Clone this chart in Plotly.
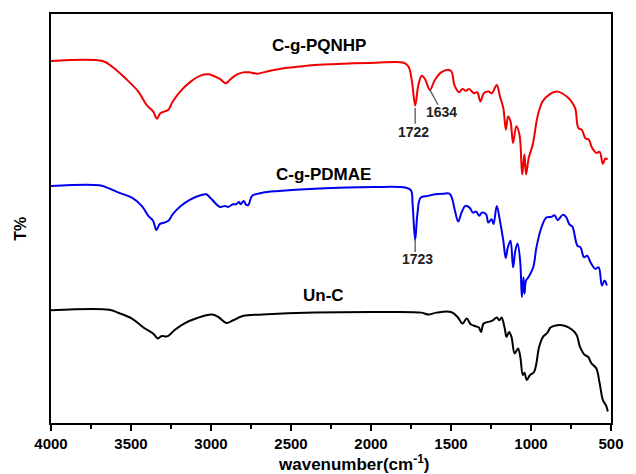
import plotly.graph_objects as go

# ---- data (y is relative transmittance, arbitrary units) ----
red_wn = [4000, 3678, 3617, 3535, 3454, 3403, 3362, 3337, 3317, 3290, 3266, 3239, 3189, 3127, 3066,
          3015, 2974, 2944, 2907, 2883, 2842, 2801, 2760, 2709, 2638, 2556, 2475, 2352, 2173, 1969,
          1795, 1765, 1744, 1724, 1704, 1683, 1663, 1632, 1601, 1561, 1510, 1494, 1479, 1448, 1428,
          1408, 1387, 1357, 1336, 1316, 1295, 1265, 1245, 1214, 1194, 1173, 1157, 1143, 1128, 1112,
          1092, 1072, 1055, 1041, 1031, 1014, 989, 959, 928, 888, 837, 796, 755, 724, 704,
          683, 659, 639, 618, 592, 571, 551, 535, 521]
red_t = [364.0, 364.0, 358.3, 346.6, 333.3, 320.0, 313.3, 306.0, 311.6, 313.3, 315.0, 323.3, 334.0, 343.3, 349.3,
         350.6, 348.3, 346.0, 341.6, 345.0, 350.0, 352.6, 352.6, 351.3, 354.0, 356.6, 358.0, 360.0, 361.3, 362.3,
         362.3, 358.3, 343.3, 319.3, 340.0, 349.3, 346.0, 335.0, 345.0, 352.6, 355.0, 352.6, 340.0, 332.6, 336.0,
         334.0, 336.0, 331.6, 332.6, 323.3, 331.6, 333.3, 331.6, 340.0, 328.3, 316.6, 295.0, 308.3, 303.3, 281.6,
         298.3, 290.0, 250.0, 270.3, 250.0, 266.6, 280.0, 308.3, 323.3, 330.0, 333.3, 330.6, 325.0, 316.6, 296.6,
         295.0, 286.0, 285.0, 276.6, 271.6, 272.6, 260.6, 266.0, 265.0]

blue_wn = [4000, 3698, 3637, 3576, 3494, 3433, 3392, 3362, 3341, 3321, 3290, 3266, 3239, 3189, 3127,
           3066, 3029, 3005, 2944, 2913, 2893, 2862, 2842, 2825, 2815, 2795, 2780, 2766, 2744, 2678,
           2577, 2352, 1985, 1781, 1750, 1740, 1724, 1710, 1690, 1648, 1598, 1546, 1510, 1495, 1475,
           1455, 1434, 1410, 1384, 1363, 1343, 1322, 1308, 1281, 1267, 1246, 1234, 1214, 1194, 1173,
           1158, 1145, 1128, 1112, 1098, 1084, 1067, 1057, 1047, 1041, 1031, 1016, 986, 966, 935,
           904, 873, 853, 833, 802, 781, 761, 741, 710, 690, 669, 649, 628, 598, 577,
           557, 540, 526]
blue_t = [238.3, 239.0, 236.0, 231.6, 226.6, 218.3, 208.3, 203.3, 194.0, 200.0, 201.6, 203.3, 210.0, 218.3, 225.0,
          229.0, 230.0, 226.6, 217.3, 218.3, 217.3, 220.0, 220.0, 222.3, 220.0, 223.3, 219.3, 219.3, 228.3, 231.6,
          233.3, 235.6, 237.3, 236.6, 234.0, 220.0, 184.0, 210.0, 226.6, 228.3, 230.0, 230.6, 230.6, 226.6, 213.3,
          202.6, 211.6, 218.3, 216.6, 211.6, 212.6, 208.3, 211.6, 210.0, 201.6, 205.0, 200.0, 218.3, 203.3, 183.3,
          166.0, 176.6, 183.3, 156.6, 173.3, 180.6, 161.6, 126.6, 146.6, 130.0, 143.3, 146.6, 156.6, 176.6, 196.6,
          206.6, 207.3, 209.0, 204.0, 209.3, 207.3, 200.0, 197.3, 178.3, 176.6, 166.6, 168.3, 161.6, 155.0, 156.6,
          138.3, 143.3, 138.3]

black_wn = [4000, 3637, 3576, 3494, 3413, 3362, 3331, 3311, 3270, 3229, 3168, 3086, 2995, 2954, 2903,
            2862, 2801, 2678, 2352, 1969, 1683, 1642, 1591, 1500, 1459, 1428, 1402, 1377, 1347, 1326,
            1312, 1296, 1245, 1214, 1198, 1184, 1164, 1153, 1137, 1122, 1102, 1081, 1067, 1051, 1041,
            1026, 1006, 980, 949, 925, 898, 878, 837, 786, 745, 714, 694, 663, 643, 622,
            592, 571, 551, 530, 520]
black_t = [113.3, 114.0, 110.6, 105.0, 95.0, 90.0, 85.0, 87.3, 87.3, 93.3, 100.0, 105.6, 109.0, 106.6, 100.6,
           103.3, 107.6, 109.0, 111.0, 111.6, 111.0, 109.0, 111.0, 111.6, 106.6, 100.0, 105.0, 99.3, 97.3, 96.0,
           91.6, 100.0, 102.6, 106.0, 103.3, 106.0, 95.0, 86.6, 91.6, 86.6, 70.0, 75.0, 66.6, 48.3, 50.6,
           43.3, 48.3, 51.6, 76.6, 86.6, 90.6, 96.0, 98.3, 97.6, 94.0, 88.3, 76.6, 68.3, 66.6, 60.0,
           55.0, 40.0, 23.3, 17.3, 11.6]

series_names = ["C-g-PQNHP", "C-g-PDMAE", "Un-C"]
series_colors = ["#f00000", "#0000ee", "#000000"]
x_ticks = [4000, 3500, 3000, 2500, 2000, 1500, 1000, 500]

# labels: (text, wavenumber, y)
curve_labels = [("C-g-PQNHP", 2322, 380), ("C-g-PDMAE", 2300, 250), ("Un-C", 2297, 128)]
peak_labels = [("1722", 1737, 293), ("1634", 1557, 313), ("1723", 1710, 165)]
peak_lines = [(1724, 317, 1724, 301), (1632, 335, 1581, 320), (1724, 185, 1724, 172)]

FONT = "Liberation Sans, Arial, sans-serif"

fig = go.Figure()
for wn, t, name, col in zip([red_wn, blue_wn, black_wn], [red_t, blue_t, black_t], series_names, series_colors):
    fig.add_trace(go.Scatter(x=wn, y=t, mode="lines", name=name,
                             line=dict(color=col, width=2), line_shape="spline"))

for text, x, y in curve_labels:
    fig.add_annotation(x=x, y=y, text=text, showarrow=False,
                       font=dict(family=FONT, size=17, color="black", weight="bold"))
for text, x, y in peak_labels:
    fig.add_annotation(x=x, y=y, text=text, showarrow=False,
                       font=dict(family=FONT, size=14, color="#222", weight="bold"))
for x0, y0, x1, y1 in peak_lines:
    fig.add_shape(type="line", x0=x0, y0=y0, x1=x1, y1=y1, xref="x", yref="y",
                  line=dict(color="#555555", width=1.3))

fig.add_annotation(xref="paper", yref="paper", x=0.541, y=-0.097, xanchor="center", yanchor="middle",
                   text="<b>wavenumber(cm<sup>-1</sup>)</b>", showarrow=False,
                   font=dict(family=FONT, size=17, color="black"))
fig.add_annotation(xref="paper", yref="paper", x=-0.0537, y=0.475, xanchor="center", yanchor="middle",
                   textangle=-90, text="<b>T%</b>", showarrow=False,
                   font=dict(family=FONT, size=16, color="black"))

fig.update_layout(
    width=636, height=474,
    margin=dict(l=51, r=13, t=12, b=51),
    paper_bgcolor="white", plot_bgcolor="white",
    showlegend=False,
    xaxis=dict(range=[4000, 500], tickvals=x_ticks, ticktext=[str(v) for v in x_ticks],
               ticks="outside", ticklen=6, tickwidth=1.5, tickcolor="black",
               minor=dict(dtick=250, ticks="outside", ticklen=4, tickwidth=1.5, tickcolor="black"),
               showline=True, mirror=True, linecolor="black", linewidth=1.5,
               showgrid=False, zeroline=False,
               tickfont=dict(family=FONT, size=15, color="black", weight="bold")),
    yaxis=dict(range=[0, 411.3], showticklabels=False, ticks="",
               showline=True, mirror=True, linecolor="black", linewidth=1.5,
               showgrid=False, zeroline=False),
)

fig.write_html("out.html")
